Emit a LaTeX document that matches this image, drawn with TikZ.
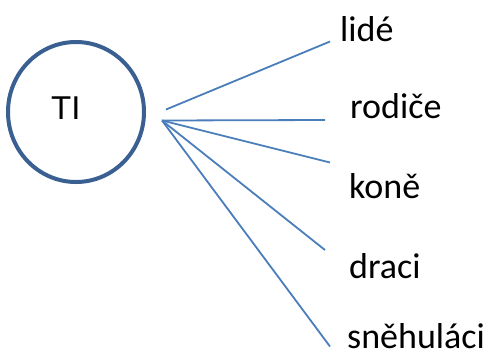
\documentclass[tikz,border=0pt]{standalone}
\usepackage{fontspec}
\setmainfont{Carlito}
\newfontfamily\tifont{Liberation Sans}
\definecolor{ringblue}{HTML}{3A6091}
\definecolor{lineblue}{HTML}{4A7EBB}
\begin{document}
\begin{tikzpicture}[x=1pt,y=-1pt,
  word/.style={anchor=base west,inner sep=0pt,font=\fontsize{36}{42}\selectfont},
  spoke/.style={draw=lineblue,line width=1.8pt}]
\useasboundingbox (0,0) rectangle (495,360);
\draw[ringblue,line width=4pt] (76,112) ellipse [x radius=68,y radius=70];
\node[anchor=base west,inner sep=0pt,font=\tifont\fontsize{33}{40}\selectfont] (ti) at (51,119) {TI};
\node[word] (w1) at (340,41.7) {lidé};
\node[word] (w2) at (350,118.3) {rodiče};
\node[word] (w3) at (349,198.3) {koně};
\node[word] (w4) at (349,278.3) {draci};
\node[word] (w5) at (347,348.3) {sněhuláci};
\coordinate (h1) at (166,109.5);
\coordinate (h2) at (162,120.5);
\coordinate (e1) at (330,41.5);
\coordinate (e2) at (325,120);
\coordinate (e3) at (330,162.5);
\coordinate (e4) at (325,250);
\coordinate (e5) at (330,346.5);
\draw[spoke] (h1) -- (e1);
\draw[spoke] (h2) -- (e2);
\draw[spoke] (h2) -- (e3);
\draw[spoke] (h2) -- (e4);
\draw[spoke] (h2) -- (e5);
\end{tikzpicture}
\end{document}
